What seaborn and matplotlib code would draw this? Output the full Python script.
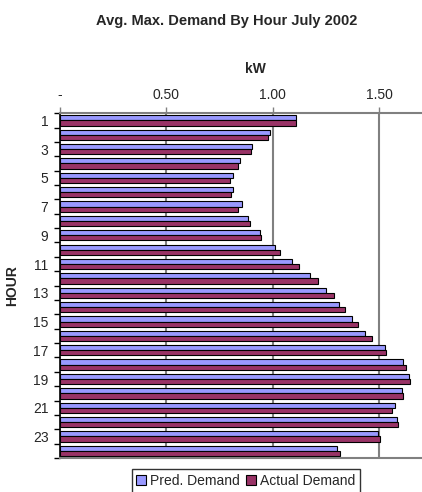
import matplotlib
matplotlib.use("Agg")
import matplotlib.pyplot as plt
import numpy as np
import pandas as pd
import seaborn as sns

hours = list(range(1, 25))
pred_demand = [1.107, 0.987, 0.902, 0.848, 0.812, 0.812, 0.854, 0.885, 0.938, 1.009,
               1.092, 1.176, 1.249, 1.312, 1.370, 1.435, 1.525, 1.609, 1.640, 1.604,
               1.573, 1.582, 1.495, 1.300]
actual_demand = [1.107, 0.976, 0.896, 0.838, 0.801, 0.802, 0.838, 0.892, 0.945, 1.034,
                 1.123, 1.213, 1.287, 1.340, 1.398, 1.467, 1.529, 1.623, 1.642, 1.609,
                 1.557, 1.588, 1.501, 1.314]
series_names = ["Pred. Demand", "Actual Demand"]
series_colors = ["#9999FF", "#993366"]
x_ticks = [0.0, 0.5, 1.0, 1.5]
x_tick_labels = ["-", "0.50", "1.00", "1.50"]

df = pd.DataFrame({
    "HOUR": [str(h) for h in hours] * 2,
    "kW": pred_demand + actual_demand,
    "Series": [series_names[0]] * 24 + [series_names[1]] * 24,
})

sns.set_theme(style="white")
plt.rcParams["font.family"] = ["Liberation Sans", "DejaVu Sans"]

fig = plt.figure(figsize=(4.22, 4.92), dpi=100)
ax = fig.add_axes([0.141, 0.069, 0.859, 0.701])

sns.barplot(data=df, x="kW", y="HOUR", hue="Series", order=[str(h) for h in hours],
            hue_order=series_names, palette=series_colors, orient="h",
            width=0.72, edgecolor="black", linewidth=0.8, saturation=1,
            ax=ax, legend=True)

ax.set_xlim(0, 1.70)
ax.set_ylim(23.5, -0.5)

# value axis on top with grey gridlines
ax.xaxis.tick_top()
ax.xaxis.set_label_position("top")
ax.set_xticks(x_ticks)
ax.set_xticklabels(x_tick_labels, fontsize=10)
ax.tick_params(axis="x", which="major", length=4, width=1, color="#808080",
               pad=4, top=True, bottom=False)
for v in x_ticks[1:]:
    ax.axvline(v, color="#808080", linewidth=1.5, zorder=0)
ax.set_xlabel("kW", fontsize=10, fontweight="bold")
ax.xaxis.set_label_coords(0.54, 1.115)

# category axis: labels on odd hours, marks between categories
ax.set_yticks(range(0, 24, 2))
ax.set_yticklabels([str(h) for h in hours[::2]], fontsize=10)
ax.set_yticks(np.arange(-0.5, 24.0, 1.0), minor=True)
ax.tick_params(axis="y", which="major", length=0, pad=8)
ax.tick_params(axis="y", which="minor", length=4, width=1, color="black", left=True)
ax.set_ylabel("HOUR", fontsize=10, fontweight="bold", labelpad=10)

for side in ["top", "bottom"]:
    ax.spines[side].set_color("#808080")
    ax.spines[side].set_linewidth(1.5)
ax.spines["left"].set_color("black")
ax.spines["left"].set_linewidth(1.2)
ax.spines["right"].set_visible(False)

fig.suptitle("Avg. Max. Demand By Hour July 2002", x=0.538, y=0.972,
             fontsize=10.5, fontweight="bold")

ax.get_legend().remove()
handles = [plt.Rectangle((0, 0), 1, 1, facecolor=c, edgecolor="black", linewidth=0.8)
           for c in series_colors]
leg = fig.legend(handles, series_names, loc="lower center", bbox_to_anchor=(0.582, -0.004),
                 ncol=2, fontsize=10, frameon=True, fancybox=False,
                 handlelength=0.7, handleheight=0.7, handletextpad=0.25,
                 columnspacing=0.5, borderpad=0.35, borderaxespad=0.1)
leg.get_frame().set_edgecolor("black")
leg.get_frame().set_linewidth(1.0)

fig.savefig("out.png", dpi=100)
